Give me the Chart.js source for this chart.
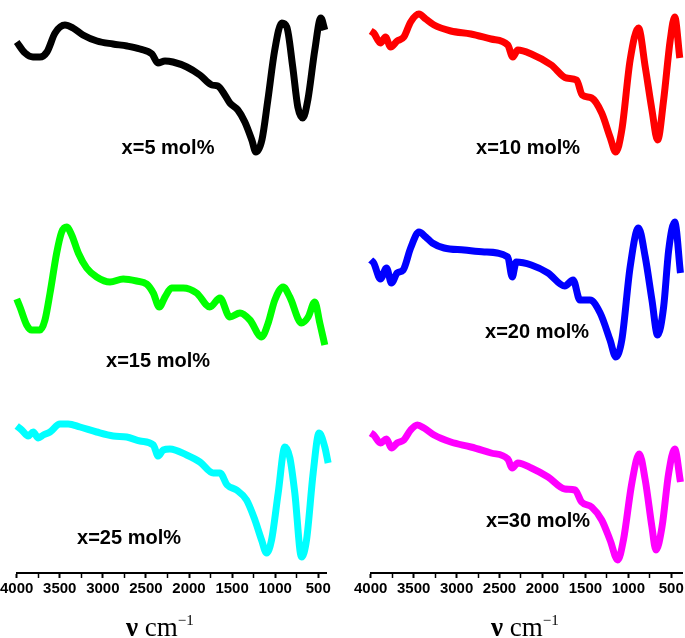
<!DOCTYPE html>
<html>
<head>
<meta charset="utf-8">
<script src="https://cdn.jsdelivr.net/npm/chart.js@4.4.1/dist/chart.umd.min.js"></script>
<style>
  html, body { margin: 0; padding: 0; background: #fff; overflow: hidden; }
  body { width: 685px; height: 638px; position: relative; }
  canvas { position: absolute; top: 0; }
  #left { left: -10px; }
  #right { left: 342px; }
  .tag {
    position: absolute;
    transform: translate(-50%, -50%);
    font: bold 20px "Liberation Sans", Arial, sans-serif;
    line-height: 1;
    white-space: nowrap;
    color: #000;
  }
  .axlab {
    position: absolute;
    top: 607px;
    font: 27px "Liberation Serif", "Times New Roman", serif;
    line-height: 27px;
    white-space: nowrap;
    color: #000;
  }
  .axlab b { font-weight: bold; }
  .axlab sup { font-size: 15px; vertical-align: 11px; }
</style>
</head>
<body>
<canvas id="left" width="352" height="638"></canvas>
<canvas id="right" width="360" height="638"></canvas>

<div class="tag" style="left:168px; top:147px;">x=5 mol%</div>
<div class="tag" style="left:528px; top:147px;">x=10 mol%</div>
<div class="tag" style="left:158px; top:360px;">x=15 mol%</div>
<div class="tag" style="left:537px; top:331px;">x=20 mol%</div>
<div class="tag" style="left:129px; top:537px;">x=25 mol%</div>
<div class="tag" style="left:538px; top:520px;">x=30 mol%</div>

<div class="axlab" style="left:126px;"><b>ν</b> cm<sup>−1</sup></div>
<div class="axlab" style="left:491px;"><b>ν</b> cm<sup>−1</sup></div>

<script>
// axis ticks (cm-1), minor ticks in between
const majorTicks = [4000, 3500, 3000, 2500, 2000, 1500, 1000, 500];
const allTicks = [4000, 3750, 3500, 3250, 3000, 2750, 2500, 2250, 2000, 1750, 1500, 1250, 1000, 750, 500];

// x=5 mol% (black)
const wave5 = [4000,3903,3811,3730,3649,3555,3440,3347,3231,3068,2883,2720,2569,2430,2361,2279,2187,2025,1874,1734,1665,1584,1526,1433,1352,1271,1224,1154,1085,1005,923,865,796,737,679,621,540,470,424];
const trans5 = [531,520,516,516,521,540,548,545,538,532,529,527,524,519,510,512,511,506,498,488,487,478,470,463,451,433,421,433,473,523,550,546,506,466,455,473,523,555,543];

// x=10 mol% (red)
const wave10 = [4000,3965,3886,3828,3769,3692,3614,3535,3438,3359,3262,3067,2833,2598,2404,2345,2287,2130,1896,1720,1603,1537,1427,1310,1213,1146,1076,979,882,803,725,659,589,512,460,401];
const trans10 = [542,540,530,536,526,532,536,551,559,554,548,542,539,534,528,516,523,519,508,495,493,478,475,460,436,421,443,513,545,506,463,433,473,533,556,515];

// x=15 mol% (green)
const wave15 = [4000,3962,3884,3826,3730,3672,3613,3536,3478,3420,3362,3285,3188,3072,2917,2764,2608,2492,2415,2345,2279,2202,2067,1912,1758,1641,1526,1409,1293,1158,1081,1004,907,830,694,617,540,482,424];
const trans15 = [274,266,248,243,243,253,280,320,341,346,338,320,305,296,291,294,292,289,280,266,276,285,285,280,266,275,256,260,253,236,250,273,286,276,250,256,271,250,228];

// x=20 mol% (blue)
const wave20 = [4000,3965,3886,3816,3758,3692,3622,3535,3438,3359,3282,3145,2911,2677,2404,2352,2306,2130,1935,1740,1643,1564,1447,1328,1213,1146,1076,979,882,803,725,659,589,530,460,393];
const trans20 = [313,310,294,305,290,300,303,325,341,336,330,325,323,321,316,296,311,308,300,287,293,273,273,260,233,216,233,306,345,316,273,238,266,323,351,300];

// x=25 mol% (cyan)
const wave25 = [4000,3942,3866,3808,3750,3691,3613,3498,3402,3265,3072,2880,2724,2569,2415,2357,2299,2221,2028,1874,1719,1641,1557,1448,1332,1235,1158,1100,1042,965,887,829,772,694,636,559,490,424,385];
const trans25 = [147,143,137,141,135,138,141,149,149,146,141,137,136,132,128,117,123,124,118,111,100,100,88,83,73,53,33,20,33,80,126,115,80,16,33,100,140,126,110];

// x=30 mol% (magenta)
const wave30 = [4000,3965,3886,3816,3758,3692,3614,3535,3457,3379,3262,3067,2833,2598,2404,2352,2287,2130,1935,1740,1622,1544,1427,1310,1213,1123,1057,959,873,803,725,678,608,530,460,393];
const trans30 = [140,138,130,134,125,130,133,143,148,145,138,131,126,120,114,105,110,105,96,84,83,71,66,53,33,13,33,90,119,93,46,23,46,100,124,91];

function series(wave, trans, color) {
  return {
    data: wave.map((w, i) => ({ x: w, y: trans[i] })),
    borderColor: color,
    borderWidth: 7,
    pointRadius: 0,
    fill: false,
    clip: false,
    cubicInterpolationMode: 'monotone',
    borderJoinStyle: 'round'
  };
}

function makeChart(id, datasets, xMin, padLeft, padRight) {
  return new Chart(document.getElementById(id), {
    type: 'line',
    data: { datasets: datasets },
    options: {
      responsive: false,
      animation: false,
      layout: { padding: { left: padLeft, right: padRight, top: 0, bottom: 0 } },
      plugins: { legend: { display: false }, tooltip: { enabled: false } },
      scales: {
        x: {
          type: 'linear',
          reverse: true,
          min: xMin,
          max: 4000,
          afterBuildTicks: s => { s.ticks = allTicks.map(v => ({ value: v })); },
          afterFit: s => { s.height = 65; },
          grid: {
            drawOnChartArea: false,
            drawTicks: true,
            tickLength: 5,
            tickColor: '#000',
            tickWidth: c => (c.tick && majorTicks.includes(c.tick.value)) ? 2 : 1.5
          },
          border: { color: '#000', width: 2 },
          ticks: {
            color: '#000',
            padding: 2,
            maxRotation: 0,
            autoSkip: false,
            font: { family: '"Liberation Sans", Arial, sans-serif', size: 15, weight: 'bold' },
            callback: v => majorTicks.includes(v) ? String(v) : ''
          }
        },
        y: { display: false, min: 0, max: 573 }
      }
    }
  });
}

makeChart('left', [
  series(wave5, trans5, '#000000'),
  series(wave15, trans15, '#00ff00'),
  series(wave25, trans25, '#00ffff')
], 410, 26.7, 16);

makeChart('right', [
  series(wave10, trans10, '#ff0000'),
  series(wave20, trans20, '#0000ff'),
  series(wave30, trans30, '#ff00ff')
], 375, 28.7, 20);
</script>
</body>
</html>
